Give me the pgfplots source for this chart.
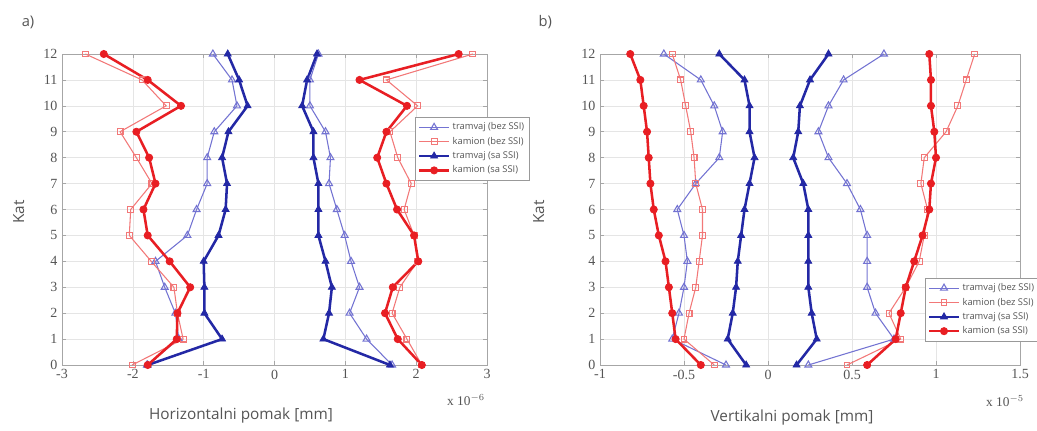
\documentclass[border=0pt]{standalone}
\usepackage{pgfplots}
\usepackage{pgfplotstable}
\pgfplotsset{compat=1.18}
\usepackage{fontspec}
\setmainfont{Liberation Serif}
\newfontfamily\labelfont{Open Sans}
\definecolor{bluedark}{RGB}{35,40,165}
\definecolor{bluelight}{RGB}{115,115,210}
\definecolor{reddark}{RGB}{232,30,35}
\definecolor{redlight}{RGB}{242,120,120}
\definecolor{txt}{RGB}{85,85,85}

\pgfplotstableread{
k  tbL   tbR  kbL   kbR  tsL   tsR  ksL   ksR
0  -1.80 1.66 -2.01 2.08 -1.79 1.63 -1.79 2.08
1  -1.35 1.30 -1.29 1.87 -0.74 0.69 -1.38 1.74
2  -1.40 1.06 -1.37 1.66 -0.99 0.77 -1.37 1.56
3  -1.55 1.20 -1.42 1.77 -0.99 0.81 -1.19 1.67
4  -1.68 1.08 -1.74 2.02 -1.00 0.72 -1.48 2.03
5  -1.23 0.99 -2.05 1.97 -0.79 0.62 -1.79 1.97
6  -1.10 0.88 -2.03 1.83 -0.69 0.62 -1.85 1.73
7  -0.95 0.77 -1.73 1.93 -0.67 0.62 -1.68 1.58
8  -0.95 0.79 -1.95 1.74 -0.74 0.55 -1.77 1.45
9  -0.85 0.72 -2.18 1.63 -0.65 0.55 -1.95 1.58
10 -0.53 0.50 -1.53 2.02 -0.38 0.39 -1.32 1.87
11 -0.60 0.50 -1.87 1.58 -0.50 0.46 -1.79 1.20
12 -0.87 0.62 -2.67 2.80 -0.66 0.60 -2.41 2.60
}\horiz

\pgfplotstableread{
k  tbL   tbR  kbL   kbR  tsL   tsR  ksL   ksR
0  -0.25 0.24 -0.32 0.47 -0.13 0.17 -0.40 0.59
1  -0.57 0.75 -0.50 0.79 -0.24 0.29 -0.55 0.76
2  -0.53 0.64 -0.47 0.72 -0.21 0.26 -0.57 0.79
3  -0.50 0.59 -0.43 0.82 -0.19 0.24 -0.59 0.82
4  -0.48 0.59 -0.41 0.90 -0.18 0.24 -0.61 0.87
5  -0.50 0.59 -0.39 0.93 -0.16 0.24 -0.65 0.92
6  -0.54 0.55 -0.39 0.95 -0.14 0.24 -0.68 0.96
7  -0.43 0.47 -0.43 0.91 -0.11 0.21 -0.70 0.97
8  -0.29 0.36 -0.44 0.93 -0.08 0.15 -0.71 1.00
9  -0.27 0.30 -0.46 1.06 -0.11 0.18 -0.72 0.99
10 -0.32 0.36 -0.49 1.13 -0.11 0.19 -0.74 0.97
11 -0.40 0.45 -0.52 1.18 -0.14 0.25 -0.76 0.97
12 -0.62 0.69 -0.57 1.23 -0.29 0.36 -0.82 0.96
}\vert

\pgfplotsset{
  tb/.style={color=bluelight, line width=0.8pt, mark=triangle, mark size=3pt, mark options={solid, line width=0.8pt}},
  kb/.style={color=redlight, line width=0.8pt, mark=square, mark size=2.2pt, mark options={solid, line width=0.8pt}},
  ts/.style={color=bluedark, line width=1.9pt, mark=triangle*, mark size=3pt, mark options={solid, line width=0.6pt}},
  ks/.style={color=reddark, line width=1.9pt, mark=*, mark size=2.7pt, mark options={solid, line width=0.6pt}},
  myaxis/.style={
    scale only axis, anchor=south west, clip=false,
    height=233.25pt,
    ymin=0, ymax=12, ytick={0,...,12},
    grid=major, major grid style={gray!20, line width=0.4pt},
    axis line style={gray!70, line width=0.6pt},
    tick style={gray!70, line width=0.5pt}, tick align=inside,
    major tick length=3pt,
    /pgf/number format/assume math mode=true,
    tick label style={font=\fontsize{10.5}{12}\selectfont, text=txt},
    legend cell align=left,
    legend style={font=\labelfont\fontsize{7}{7.5}\selectfont, text=txt, draw=gray!80, line width=0.5pt, anchor=north west, inner sep=2pt, row sep=0pt, fill=white},
    legend image code/.code={\draw[mark repeat=2,mark phase=2] plot coordinates {(0pt,0pt)(11pt,0pt)(22pt,0pt)};},
  }
}

\begin{document}
\begin{tikzpicture}
\useasboundingbox (0,0) rectangle (777.75pt,322.5pt);

\begin{axis}[myaxis, at={(46.5pt,48.75pt)}, width=318.75pt,
  xmin=-3, xmax=3, xtick={-3,...,3},
  legend style={at={(0.831,0.797)}}]
\addplot[tb] table[x=tbL, y=k] {\horiz};
\addplot[kb] table[x=kbL, y=k] {\horiz};
\addplot[ts] table[x=tsL, y=k] {\horiz};
\addplot[ks] table[x=ksL, y=k] {\horiz};
\addplot[tb, forget plot] table[x=tbR, y=k] {\horiz};
\addplot[kb, forget plot] table[x=kbR, y=k] {\horiz};
\addplot[ts, forget plot] table[x=tsR, y=k] {\horiz};
\addplot[ks, forget plot] table[x=ksR, y=k] {\horiz};
\legend{tramvaj (bez SSI), kamion (bez SSI), tramvaj (sa SSI), kamion (sa SSI)}
\end{axis}

\begin{axis}[myaxis, at={(450pt,48.75pt)}, width=315pt,
  xmin=-1, xmax=1.5, xtick={-1,-0.5,0,0.5,1,1.5},
  legend style={at={(0.774,0.28)}}]
\addplot[tb] table[x=tbL, y=k] {\vert};
\addplot[kb] table[x=kbL, y=k] {\vert};
\addplot[ts] table[x=tsL, y=k] {\vert};
\addplot[ks] table[x=ksL, y=k] {\vert};
\addplot[tb, forget plot] table[x=tbR, y=k] {\vert};
\addplot[kb, forget plot] table[x=kbR, y=k] {\vert};
\addplot[ts, forget plot] table[x=tsR, y=k] {\vert};
\addplot[ks, forget plot] table[x=ksR, y=k] {\vert};
\legend{tramvaj (bez SSI), kamion (bez SSI), tramvaj (sa SSI), kamion (sa SSI)}
\end{axis}

\node[font=\labelfont\fontsize{11}{13}\selectfont, text=txt] at (21pt,306pt) {a)};
\node[font=\labelfont\fontsize{11}{13}\selectfont, text=txt] at (409pt,306pt) {b)};
\node[font=\labelfont\fontsize{11.5}{13}\selectfont, text=txt, rotate=90] at (14pt,163.5pt) {Kat};
\node[font=\labelfont\fontsize{11.5}{13}\selectfont, text=txt, rotate=90] at (404pt,163.5pt) {Kat};
\node[font=\labelfont\fontsize{11.5}{13}\selectfont, text=txt] at (180.75pt,11pt) {Horizontalni pomak [mm]};
\node[font=\labelfont\fontsize{11.5}{13}\selectfont, text=txt] at (594pt,9.5pt) {Vertikalni pomak [mm]};
\node[font=\fontsize{10}{11}\selectfont, text=txt] at (349.5pt,22.5pt) {x 10$^{\scriptstyle -6}$};
\node[font=\fontsize{10}{11}\selectfont, text=txt] at (753.75pt,21.75pt) {x 10$^{\scriptstyle -5}$};
\end{tikzpicture}
\end{document}
